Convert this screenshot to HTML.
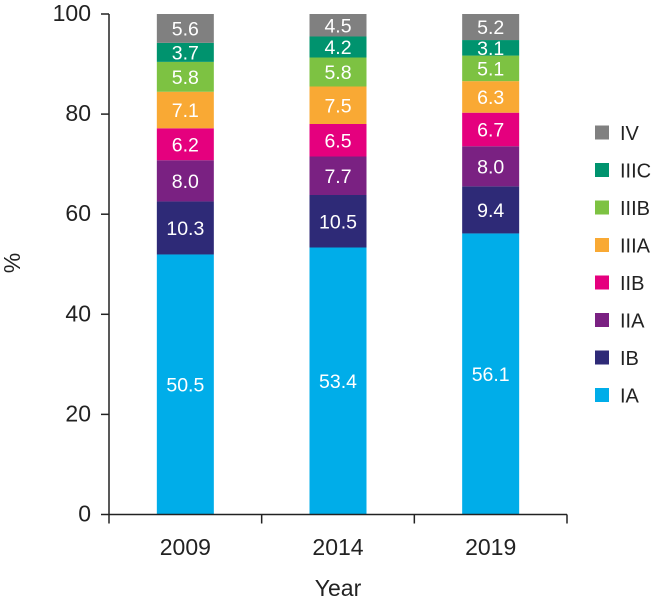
<!DOCTYPE html>
<html><head><meta charset="utf-8"><style>
html,body{margin:0;padding:0;background:#fff;}
svg{display:block;font-family:"Liberation Sans",sans-serif;}
</style></head><body>
<svg id="chart" width="654" height="598"></svg>
<script>
const years = ["2009","2014","2019"];
const stages = ["IA","IB","IIA","IIB","IIIA","IIIB","IIIC","IV"];
const colors = ["#00ade9","#2e2a77","#7a2182","#e5007e","#f9a934","#7dc242","#00936e","#808080"];
const valIA = [50.5,53.4,56.1];
const valIB = [10.3,10.5,9.4];
const valIIA = [8.0,7.7,8.0];
const valIIB = [6.2,6.5,6.7];
const valIIIA = [7.1,7.5,6.3];
const valIIIB = [5.8,5.8,5.1];
const valIIIC = [3.7,4.2,3.1];
const valIV = [5.6,4.5,5.2];
const yTicks = [0,20,40,60,80,100];
const series = [valIA,valIB,valIIA,valIIB,valIIIA,valIIIB,valIIIC,valIV];

const NS="http://www.w3.org/2000/svg";
const svg=document.getElementById('chart');
function mk(tag,attrs,parent){const e=document.createElementNS(NS,tag);for(const k in attrs)e.setAttribute(k,attrs[k]);(parent||svg).appendChild(e);return e;}
const y0=514.5,y100=14,xL=109,xR=567;
const yS=v=>y0-(y0-y100)*v/100;
const band=(xR-xL)/years.length;
const xC=i=>xL+band*(i+0.5);
const bw=57;

years.forEach((yr,i)=>{
  const total=series.reduce((s,a)=>s+a[i],0);
  let acc=0;
  series.forEach((arr,k)=>{
    const v=arr[i]/total*100;
    const top=yS(acc+v),bot=yS(acc);
    const r=mk('rect',{x:xC(i)-bw/2,y:top,width:bw,height:bot-top,fill:colors[k]});
    
    
    const t=mk('text',{x:xC(i),y:(top+bot)/2+7,'text-anchor':'middle','font-size':'19.5',fill:'#fff'});
    t.textContent=arr[i].toFixed(1);
    
    
    acc+=v;
  });
});

const ya=mk('line',{x1:xL,y1:y100,x2:xL,y2:y0,stroke:'#222','stroke-width':1.5});


yTicks.forEach(v=>{
  const tk=mk('line',{x1:xL-8,y1:yS(v),x2:xL,y2:yS(v),stroke:'#222','stroke-width':1.5});
  
  
  const t=mk('text',{x:91,y:yS(v)+7,'text-anchor':'end','font-size':'23',fill:'#222'});
  t.textContent=v;
  
  
});
const xa=mk('line',{x1:xL,y1:y0,x2:xR,y2:y0,stroke:'#222','stroke-width':1.5});


for(let i=0;i<=years.length;i++){
  const tk=mk('line',{x1:xL+band*i,y1:y0,x2:xL+band*i,y2:y0+9,stroke:'#222','stroke-width':1.5});
  
  
}
years.forEach((yr,i)=>{
  const t=mk('text',{x:xC(i),y:555,'text-anchor':'middle','font-size':'23',fill:'#222'});
  t.textContent=yr;
  
  
});
const xt=mk('text',{x:338,y:596,'text-anchor':'middle','font-size':'23',fill:'#222'});
xt.textContent='Year';


const yt=mk('text',{x:0,y:0,'text-anchor':'middle','font-size':'23',fill:'#222',transform:'translate(20,263) rotate(-90)'});
yt.textContent='%';



stages.forEach((s,k)=>{
  const yy=395-37.5*k;
  const g=mk('g',{});
  
  
  mk('rect',{x:595,y:yy-7,width:14,height:14,fill:colors[k]},g);
  const t=mk('text',{x:620,y:yy+7.5,'font-size':'20',fill:'#222'},g);
  t.textContent=s;
});
</script>
</body></html>
